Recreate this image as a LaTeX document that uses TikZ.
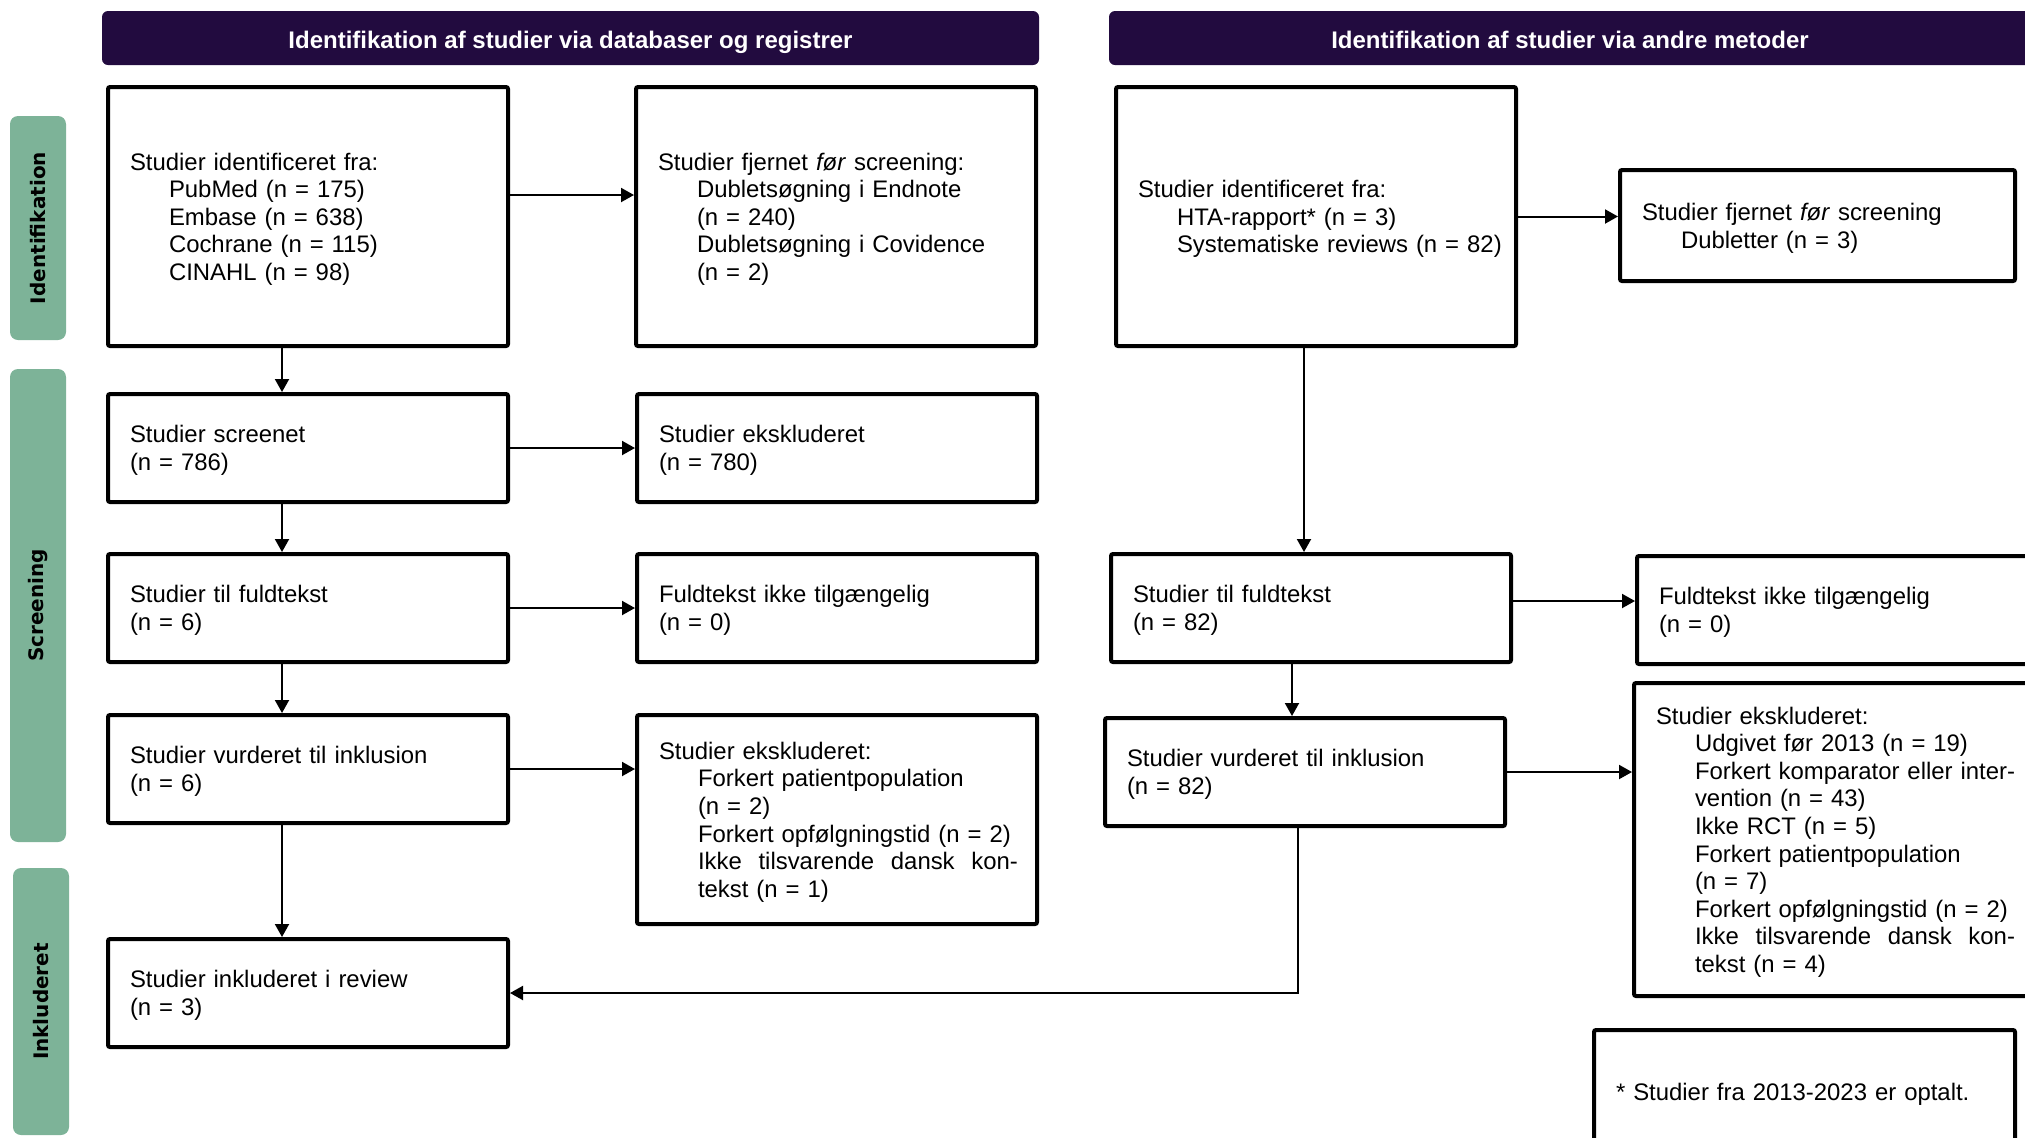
\documentclass[tikz,border=0pt]{standalone}
\usepackage{fontspec}
\setmainfont{Liberation Sans}
\newfontfamily\phasefont{DejaVu Sans}
\usepackage{tikz}
\usetikzlibrary{shapes,arrows.meta,positioning}
\definecolor{hdpurple}{HTML}{220B3F}
\definecolor{phasegreen}{HTML}{7DB398}
\newcommand{\indt}{\hspace*{19.5pt}}
\newcommand{\spreadline}[1]{\makebox[#1][l]{Ikke\hfill tilsvarende\hfill dansk\hfill kon-}}
\tikzstyle{box} = [rectangle, draw=black, line width=2pt, rounded corners=1pt, fill=white, outer sep=1pt, inner xsep=11pt, minimum width=200pt, text width=178pt, align=left, font=\fontsize{11.95}{13.8}\selectfont, execute at begin node={\rule{0pt}{11.2pt}}]
\tikzstyle{smallbox} = [box, minimum height=54pt]
\tikzstyle{header} = [rectangle, fill=hdpurple, rounded corners=3pt, text=white, minimum height=27pt, text height=10.5pt, text depth=0pt, font=\bfseries\fontsize{12}{14}\selectfont]
\tikzstyle{phase} = [rectangle, fill=phasegreen, rounded corners=4pt, rotate=90, minimum height=28pt, font=\phasefont\bfseries\fontsize{10}{12}\selectfont]
\tikzstyle{tedge} = [draw, line width=1pt, -{Triangle[length=6.5pt,width=7pt]}]

\begin{document}
\begin{tikzpicture}[x=1pt, y=-1pt]
\useasboundingbox (0,0) rectangle (1012.5,568.5);

% headers and phases =============================
\node[header, minimum width=468.5pt] (hdb) at (285.25,19) {Identifikation af studier via databaser og registrer};
\node[header, minimum width=461pt] (hoth) at (785,19) {Identifikation af studier via andre metoder};
\node[phase, minimum width=112pt] (pid) at (19,114) {Identifikation};
\node[phase, minimum width=236.5pt] (pscr) at (19,302.75) {Screening};
\node[phase, minimum width=133.5pt] (pinc) at (20.5,500.75) {Inkluderet};

% databases =============================
\node[box, minimum height=129.5pt] (A1) at (154,108.25) {Studier identificeret fra:\\
  \indt PubMed (n = 175)\\ \indt Embase (n = 638)\\ \indt Cochrane (n = 115)\\ \indt CINAHL (n = 98)};
\node[box, minimum height=129.5pt, right=62pt of A1] (A2) {Studier fjernet \textit{før} screening:\\
  \indt Dubletsøgning i Endnote\\ \indt (n = 240)\\ \indt Dubletsøgning i Covidence\\ \indt (n = 2)};
\node[smallbox, below=22pt of A1] (B1) {Studier screenet\\(n = 786)};
\node[smallbox, right=62.5pt of B1] (B2) {Studier ekskluderet\\(n = 780)};
\node[smallbox, below=24pt of B1] (C1) {Studier til fuldtekst\\(n = 6)};
\node[smallbox, right=62.5pt of C1] (C2) {Fuldtekst ikke tilgængelig\\(n = 0)};
\node[smallbox, below=24.5pt of C1] (D1) {Studier vurderet til inklusion\\(n = 6)};
\node[box, minimum height=104.5pt, right=62.5pt of D1.north east, anchor=north west] (D2) {Studier ekskluderet:\\
  \indt Forkert patientpopulation\\ \indt (n = 2)\\ \indt Forkert opfølgningstid (n = 2)\\
  \indt \spreadline{160pt}\\ \indt tekst (n = 1)};
\node[smallbox, below=56pt of D1] (E1) {Studier inkluderet i review\\(n = 3)};

% other methods =============================
\node[box, minimum height=129.5pt, right=38pt of A2] (R1) {Studier identificeret fra:\\
  \indt HTA-rapport* (n = 3)\\ \indt \mbox{Systematiske reviews (n = 82)}};
\node[box, minimum width=197.5pt, text width=175.5pt, minimum height=55.5pt, right=50pt of R1, yshift=-4.5pt] (R2) {Studier fjernet \textit{før} screening\\
  \indt Dubletter (n = 3)};
\node[smallbox, right=299.5pt of C1] (R3) {Studier til fuldtekst\\(n = 82)};
\node[smallbox, minimum width=210pt, text width=188pt, right=61pt of R3, yshift=-1pt] (R4) {Fuldtekst ikke tilgængelig\\(n = 0)};
\node[smallbox, right=296.5pt of D1, yshift=-1.5pt] (R5) {Studier vurderet til inklusion\\(n = 82)};
\node[box, minimum width=210pt, text width=188pt, minimum height=156.5pt, right=62.5pt of R5.north east, anchor=north west, yshift=17.5pt] (R6) {Studier ekskluderet:\\
  \indt Udgivet før 2013 (n = 19)\\ \indt Forkert komparator eller inter-\\ \indt vention (n = 43)\\
  \indt Ikke RCT (n = 5)\\ \indt Forkert patientpopulation\\ \indt (n = 7)\\
  \indt Forkert opfølgningstid (n = 2)\\ \indt \spreadline{160pt}\\ \indt tekst (n = 4)};
\node[box, minimum width=210.5pt, text width=188.5pt, minimum height=62pt, below=15pt of R6.south west, anchor=north west, xshift=-20pt] (note) {* Studier fra 2013-2023 er optalt.};

% edges
\path[tedge] ([yshift=10.75pt]A1.east) -- ([yshift=10.75pt]A1.east -| A2.west);
\path[tedge] ([xshift=-13pt]A1.south) -- ([xshift=-13pt]A1.south |- B1.north);
\path[tedge] (B1.east) -- (B1.east -| B2.west);
\path[tedge] ([xshift=-13pt]B1.south) -- ([xshift=-13pt]B1.south |- C1.north);
\path[tedge] (C1.east) -- (C1.east -| C2.west);
\path[tedge] ([xshift=-13pt]C1.south) -- ([xshift=-13pt]C1.south |- D1.north);
\path[tedge] (D1.east) -- (D1.east -| D2.west);
\path[tedge] ([xshift=-13pt]D1.south) -- ([xshift=-13pt]D1.south |- E1.north);

\path[tedge] (R1.east) -- (R1.east -| R2.west);
\path[tedge] ([xshift=-6pt]R1.south) -- ([xshift=-6pt]R1.south |- R3.north);
\path[tedge] ([yshift=3.5pt]R3.east) -- ([yshift=3.5pt]R3.east -| R4.west);
\path[tedge] ([xshift=-9.5pt]R3.south) -- ([xshift=-9.5pt]R3.south |- R5.north);
\path[tedge] (R5.east) -- (R5.east -| R6.west);
\path[tedge] ([xshift=-3.5pt]R5.south) |- (E1.east);

\end{tikzpicture}
\end{document}
